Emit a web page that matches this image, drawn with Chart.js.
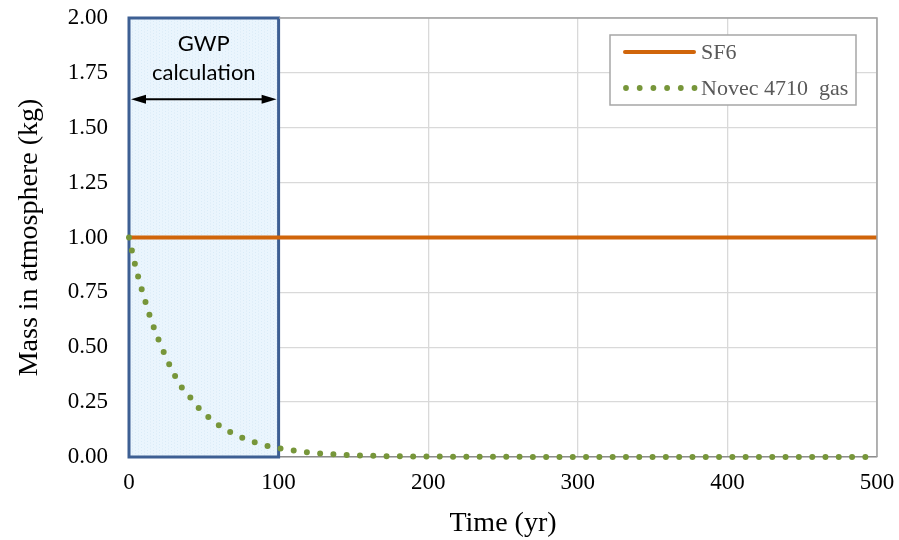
<!DOCTYPE html>
<html>
<head>
<meta charset="utf-8">
<script src="https://cdn.jsdelivr.net/npm/chart.js@4.4.1/dist/chart.umd.min.js"></script>
<style>
  html, body { margin: 0; padding: 0; background: #fff; }
  #wrap { width: 899px; height: 540px; }
</style>
</head>
<body>
<div id="wrap"><canvas id="chart" width="899" height="540"></canvas></div>
<script>
// values
const novecYears = [0, 5, 10, 15, 20, 25, 30, 35, 40, 45, 50, 60, 70, 80, 90, 100, 110, 120, 140, 160, 180, 200, 250, 300, 400, 500];
const novecMass = [1.00, 0.85, 0.73, 0.62, 0.53, 0.45, 0.38, 0.32, 0.28, 0.235, 0.20, 0.145, 0.105, 0.076, 0.055, 0.04, 0.03, 0.021, 0.011, 0.006, 0.003, 0.002, 0.001, 0, 0, 0];
const sf6Years = [0, 500];
const sf6Mass = [1.00, 1.00];
const seriesLabels = ['SF6', 'Novec 4710  gas'];
const gwpWindow = [0, 100];
const gwpText = ['GWP', 'calculation'];

const ORANGE = '#d0650a';
const GREEN = '#77963a';
const BOX_BLUE = '#3d5f93';

// shaded GWP window, arrow and label
const gwpBox = {
    id: 'gwpBox',
    beforeDatasetsDraw(chart) {
        const { ctx, scales: { x, y } } = chart;
        const x0 = x.getPixelForValue(gwpWindow[0]);
        const x1 = x.getPixelForValue(gwpWindow[1]);
        const y0 = y.getPixelForValue(2);
        const y1 = y.getPixelForValue(0);
        ctx.save();
        ctx.fillStyle = 'rgba(234, 245, 253, 1)';
        ctx.fillRect(x0, y0, x1 - x0, y1 - y0);
        // light dotted texture
        ctx.fillStyle = 'rgba(200, 225, 242, 0.5)';
        for (let px = x0; px < x1; px += 3) {
            for (let py = y0 + ((px - x0) % 6 === 0 ? 0 : 1.5); py < y1; py += 3) {
                ctx.fillRect(px, py, 1, 1);
            }
        }
        ctx.strokeStyle = BOX_BLUE;
        ctx.lineWidth = 3;
        ctx.strokeRect(x0, y0, x1 - x0, y1 - y0);

        // double-headed arrow
        const ay = y.getPixelForValue(1.63);
        const ax0 = x0 + 2, ax1 = x1 - 2;
        ctx.strokeStyle = '#000';
        ctx.fillStyle = '#000';
        ctx.lineWidth = 2;
        ctx.beginPath();
        ctx.moveTo(ax0 + 10, ay);
        ctx.lineTo(ax1 - 10, ay);
        ctx.stroke();
        ctx.beginPath();
        ctx.moveTo(ax0, ay);
        ctx.lineTo(ax0 + 15, ay - 4.5);
        ctx.lineTo(ax0 + 15, ay + 4.5);
        ctx.closePath();
        ctx.fill();
        ctx.beginPath();
        ctx.moveTo(ax1, ay);
        ctx.lineTo(ax1 - 15, ay - 4.5);
        ctx.lineTo(ax1 - 15, ay + 4.5);
        ctx.closePath();
        ctx.fill();

        ctx.font = '22px Lato, "Open Sans", sans-serif';
        ctx.textAlign = 'center';
        ctx.textBaseline = 'middle';
        const cx = (x0 + x1) / 2;
        ctx.fillText(gwpText[0], cx, y0 + 26);
        ctx.fillText(gwpText[1], cx, y0 + 55);
        ctx.restore();
    }
};

// plot frame (top and right) and legend box inside the plot
const frameAndLegend = {
    id: 'frameAndLegend',
    afterDraw(chart) {
        const { ctx, chartArea: a } = chart;
        ctx.save();
        ctx.strokeStyle = '#a0a0a0';
        ctx.lineWidth = 1.5;
        ctx.beginPath();
        ctx.moveTo(a.left + 150, a.top);
        ctx.lineTo(a.right, a.top);
        ctx.lineTo(a.right, a.bottom);
        ctx.stroke();

        // legend
        const lx = a.right - 267, ly = a.top + 17, lw = 246, lh = 70;
        ctx.fillStyle = '#fff';
        ctx.fillRect(lx, ly, lw, lh);
        ctx.strokeStyle = '#a6a6a6';
        ctx.lineWidth = 1.5;
        ctx.strokeRect(lx, ly, lw, lh);

        const ds = chart.data.datasets;
        const r1 = ly + 17, r2 = ly + 53;
        ctx.lineCap = 'round';
        ctx.strokeStyle = ds[0].borderColor;
        ctx.lineWidth = 4;
        ctx.beginPath();
        ctx.moveTo(lx + 15, r1);
        ctx.lineTo(lx + 84, r1);
        ctx.stroke();

        ctx.fillStyle = ds[1].borderColor;
        for (let i = 0; i < 6; i++) {
            ctx.beginPath();
            ctx.arc(lx + 16 + i * 13.7, r2, 2.9, 0, Math.PI * 2);
            ctx.fill();
        }

        ctx.fillStyle = '#595959';
        ctx.font = '22px "Liberation Serif", serif';
        ctx.textAlign = 'left';
        ctx.textBaseline = 'middle';
        ctx.fillText(ds[0].label, lx + 91, r1 + 1);
        ctx.fillText(ds[1].label, lx + 91, r2 + 1);
        ctx.restore();
    }
};

const serif = '"Liberation Serif", "Times New Roman", serif';

new Chart(document.getElementById('chart'), {
    type: 'line',
    data: {
        datasets: [{
            label: seriesLabels[0],
            data: sf6Years.map((t, i) => ({ x: t, y: sf6Mass[i] })),
            borderColor: ORANGE,
            borderWidth: 4,
            pointRadius: 0,
            order: 1,
            clip: 4
        }, {
            label: seriesLabels[1],
            data: novecYears.map((t, i) => ({ x: t, y: novecMass[i] })),
            borderColor: GREEN,
            borderWidth: 6,
            borderDash: [0, 13.3],
            borderCapStyle: 'round',
            cubicInterpolationMode: 'monotone',
            pointRadius: 0,
            order: 0,
            clip: 6
        }]
    },
    plugins: [gwpBox, frameAndLegend],
    options: {
        responsive: false,
        animation: false,
        layout: { padding: { top: 18, right: 22, left: 0, bottom: 0 } },
        plugins: {
            legend: { display: false },
            tooltip: { enabled: false }
        },
        scales: {
            x: {
                type: 'linear',
                min: 0,
                max: 500,
                afterFit(scale) {
                    scale.height = 83;
                    scale.paddingLeft = 0;
                    scale.paddingRight = 0;
                },
                ticks: {
                    stepSize: 100,
                    padding: 12,
                    color: '#000',
                    font: { family: serif, size: 23 }
                },
                grid: { color: '#d9d9d9', lineWidth: 1.3, drawTicks: false },
                border: { color: '#8c8c8c', width: 1.5 },
                title: {
                    display: true,
                    text: 'Time (yr)',
                    color: '#000',
                    font: { family: serif, size: 28 },
                    padding: { top: 0, bottom: 0 }
                }
            },
            y: {
                min: 0,
                max: 2,
                afterFit(scale) {
                    scale.width = 129;
                    scale.paddingTop = 0;
                    scale.paddingBottom = 0;
                },
                ticks: {
                    stepSize: 0.25,
                    padding: 21,
                    color: '#000',
                    font: { family: serif, size: 23 },
                    callback: v => v.toFixed(2)
                },
                grid: { color: '#d9d9d9', lineWidth: 1.3, drawTicks: false },
                border: { color: '#a0a0a0', width: 1.5 },
                title: {
                    display: true,
                    text: 'Mass in atmosphere (kg)',
                    color: '#000',
                    font: { family: serif, size: 28 },
                    padding: { top: 13, bottom: 0 }
                }
            }
        }
    }
});
</script>
</body>
</html>
